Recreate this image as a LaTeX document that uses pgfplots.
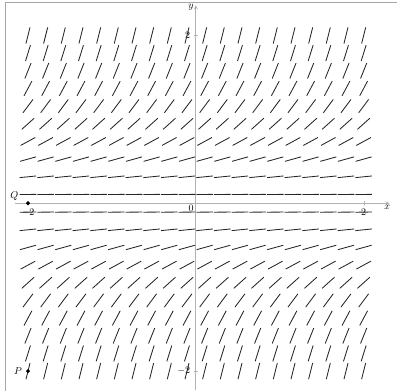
\documentclass[border=0pt]{standalone}
\usepackage{pgfplots}
\pgfplotsset{compat=1.18}
\usepackage{pgfplotstable}
\pgfplotstableread{
y u v
-2.00000 0.043656 0.17462
-1.78947 0.053655 0.17181
-1.57895 0.067010 0.16706
-1.36842 0.084791 0.15878
-1.15789 0.10762 0.14429
-0.94737 0.13396 0.12023
-0.73684 0.15819 0.08589
-0.52632 0.17347 0.04805
-0.31579 0.17911 0.01786
-0.10526 0.17999 0.00199
0.10526 0.17999 0.00199
0.31579 0.17911 0.01786
0.52632 0.17347 0.04805
0.73684 0.15819 0.08589
0.94737 0.13396 0.12023
1.15789 0.10762 0.14429
1.36842 0.084791 0.15878
1.57895 0.067010 0.16706
1.78947 0.053655 0.17181
2.00000 0.043656 0.17462
}\rows
\begin{document}
\begin{tikzpicture}
\begin{axis}[
  x=84pt, y=84pt,
  axis lines=middle,
  xmin=-2.15, xmax=2.31, ymin=-2.23, ymax=2.36,
  xtick={-2,2}, ytick={-2,2},
  axis line style={gray!60, line width=0.8pt, -stealth},
  tick style={gray!60},
  tick label style={font=\normalsize},
  clip=false,
]
\path[draw=none] (axis cs:-2.3333,-2.2321) rectangle (axis cs:2.3929,2.4226);
\draw[gray!70, line width=0.8pt] (axis cs:-2.2738,-2.2321) -- (axis cs:-2.2738,2.3929) -- (axis cs:2.3929,2.3929);
\pgfplotsinvokeforeach{-2,-1.78947,-1.57895,-1.36842,-1.15789,-0.94737,-0.73684,-0.52632,-0.31579,-0.10526,0.10526,0.31579,0.52632,0.73684,0.94737,1.15789,1.36842,1.57895,1.78947,2}{
  \addplot[black!85, line width=0.85pt, quiver={u=1.1*\thisrow{u}, v=1.1*\thisrow{v}}]
    table[x expr={#1-0.55*\thisrow{u}}, y expr={\thisrow{y}-0.55*\thisrow{v}}] {\rows};
}
\addplot[only marks, mark=*, mark size=1.8pt, black] coordinates {(-2,-2) (-2,0)};
\node[left] at (axis cs:-2.03,-2) {$P$};
\node[above left, inner sep=1pt] at (axis cs:-2.1,0.02) {$Q$};
\node[below left, inner sep=2pt] at (axis cs:0,0) {$0$};
\node[below, inner sep=2pt] at (axis cs:2.28,0) {$x$};
\node[left, inner sep=2pt] at (axis cs:0,2.33) {$y$};
\end{axis}
\end{tikzpicture}
\end{document}
